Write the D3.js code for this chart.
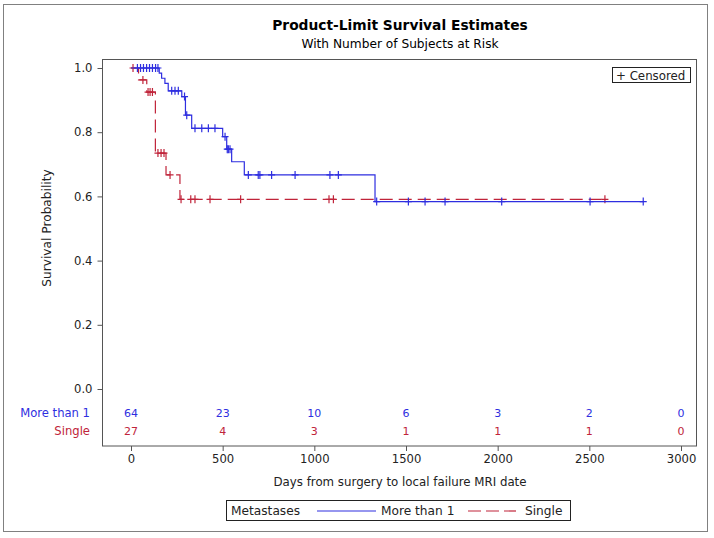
<!DOCTYPE html>
<html><head><meta charset="utf-8">
<script src="https://cdn.jsdelivr.net/npm/d3@7"></script>
<style>body{margin:0;background:#fff}svg{display:block}text{font-family:"DejaVu Sans",sans-serif}</style>
</head><body><svg id="c" width="714" height="538"></svg>
<script>
// ---- data ----
const groups = ["More than 1", "Single"];
const moreEventTimes = [154, 167, 185, 203, 277, 297, 331, 500, 522, 549, 618, 1331];
const moreSurv       = [0.984, 0.968, 0.952, 0.929, 0.911, 0.853, 0.812, 0.786, 0.747, 0.708, 0.667, 0.584];
const moreCensor     = [35, 52, 68, 85, 101, 117, 134, 147, 222, 240, 258, 292, 304, 349, 386, 422, 458, 513, 525, 531, 540,
                        640, 694, 703, 767, 895, 1085, 1131, 1340, 1513, 1604, 1713, 2022, 2504, 2794];
const moreEnd = 2794;
const singleEventTimes = [41, 86, 133, 191, 267];
const singleSurv       = [0.963, 0.925, 0.735, 0.667, 0.591];
const singleCensor     = [11, 65, 93, 104, 117, 147, 164, 180, 213, 273, 326, 349, 431, 598, 1080, 1104, 2585];
const singleEnd = 2585;
const riskTimes = [0, 500, 1000, 1500, 2000, 2500, 3000];
const riskMore   = [64, 23, 10, 6, 3, 2, 0];
const riskSingle = [27, 4, 3, 1, 1, 1, 0];
const xTicks = [0, 500, 1000, 1500, 2000, 2500, 3000];
const yTicks = [0, 0.2, 0.4, 0.6, 0.8, 1.0];

const FONT = '"DejaVu Sans",sans-serif';
const blue = "#2e2ee0", red = "#c0243a";
const svg = d3.select("#c");
const x = d3.scaleLinear().domain([0, 3000]).range([131, 681]);
const y = d3.scaleLinear().domain([0, 1]).range([389, 68]);

// outer border
svg.append("rect").attr("x", 3.5).attr("y", 4.5).attr("width", 704).attr("height", 527)
  .attr("fill", "none").attr("stroke", "#808080").attr("stroke-width", 1);

// titles
svg.append("text").attr("x", 400).attr("y", 30).attr("text-anchor", "middle")
  .attr("font-size", 13.8).attr("font-weight", "bold").text("Product-Limit Survival Estimates");
svg.append("text").attr("x", 400).attr("y", 48).attr("text-anchor", "middle")
  .attr("font-size", 12.2).text("With Number of Subjects at Risk");

// frame
svg.append("rect").attr("x", 102.5).attr("y", 59.5).attr("width", 594).attr("height", 386.5)
  .attr("fill", "none").attr("stroke", "#555").attr("stroke-width", 1);

// axes
const yAxis = svg.append("g").attr("transform", "translate(102.5,0)")
  .call(d3.axisLeft(y).tickValues(yTicks).tickFormat(d3.format(".1f")).tickSize(5).tickPadding(5));
const xAxis = svg.append("g").attr("transform", "translate(0,446)")
  .call(d3.axisBottom(x).tickValues(xTicks).tickFormat(d3.format("d")).tickSize(5).tickPadding(4));
[yAxis, xAxis].forEach(a => {
  a.select(".domain").remove();
  a.selectAll("line").attr("stroke", "#555");
  a.selectAll("text").attr("font-size", 11.6).attr("fill", "#222").style("font-family", FONT);
});

svg.append("text").attr("transform", "translate(51,228) rotate(-90)").attr("text-anchor", "middle")
  .attr("font-size", 12.2).attr("fill", "#222").text("Survival Probability");
svg.append("text").attr("x", 400).attr("y", 486).attr("text-anchor", "middle")
  .attr("font-size", 11.8).attr("fill", "#222").text("Days from surgery to local failure MRI date");

// curves
function stepPts(times, surv, end) {
  const pts = [[0, 1]];
  times.forEach((t, i) => pts.push([t, surv[i]]));
  pts.push([end, surv[surv.length - 1]]);
  return pts;
}
function survAt(times, surv, t) {
  let s = 1;
  times.forEach((tt, i) => { if (tt <= t) s = surv[i]; });
  return s;
}
const line = d3.line().x(d => x(d[0])).y(d => y(d[1])).curve(d3.curveStepAfter);

const series = [
  {times: moreEventTimes, surv: moreSurv, cens: moreCensor, end: moreEnd, color: blue, dash: null},
  {times: singleEventTimes, surv: singleSurv, cens: singleCensor, end: singleEnd, color: red, dash: "13,6"}
];
series.slice().reverse().forEach(s => {
  svg.append("path").attr("d", line(stepPts(s.times, s.surv, s.end)))
    .attr("fill", "none").attr("stroke", s.color).attr("stroke-width", 1.2)
    .attr("stroke-dasharray", s.dash);
  const g = svg.append("g");
  s.cens.forEach(t => {
    const cx = x(t), cy = y(survAt(s.times, s.surv, t));
    g.append("path").attr("d", `M${cx - 3.5},${cy}H${cx + 3.5}M${cx},${cy - 4}V${cy + 4}`)
      .attr("stroke", s.color).attr("stroke-width", 1.2).attr("fill", "none");
  });
});

// censored legend
svg.append("rect").attr("x", 612.5).attr("y", 67.5).attr("width", 78).attr("height", 15)
  .attr("fill", "#fff").attr("stroke", "#222");
svg.append("text").attr("x", 616).attr("y", 79.5).attr("font-size", 11.8).attr("fill", "#222").text("+ Censored");

// at-risk table
const rows = [{name: groups[0], vals: riskMore, color: blue, yy: 412},
              {name: groups[1], vals: riskSingle, color: red, yy: 430}];
rows.forEach(r => {
  svg.append("text").attr("x", 90).attr("y", r.yy + 4.5).attr("text-anchor", "end")
    .attr("font-size", 11.6).attr("fill", r.color).text(r.name);
  svg.selectAll(null).data(riskTimes).enter().append("text")
    .attr("x", d => x(d)).attr("y", r.yy + 4.5).attr("text-anchor", "middle")
    .attr("font-size", 11).attr("fill", r.color).text((d, i) => r.vals[i]);
});

// bottom legend
const lg = svg.append("g");
lg.append("rect").attr("x", 226.5).attr("y", 500.5).attr("width", 344).attr("height", 20)
  .attr("fill", "#fff").attr("stroke", "#222");
lg.append("text").attr("x", 231).attr("y", 515).attr("font-size", 12.2).attr("fill", "#222").text("Metastases");
lg.append("line").attr("x1", 317).attr("x2", 376).attr("y1", 511).attr("y2", 511)
  .attr("stroke", blue).attr("stroke-width", 1.2);
lg.append("text").attr("x", 381).attr("y", 515).attr("font-size", 12.2).attr("fill", "#222").text(groups[0]);
lg.append("line").attr("x1", 468).attr("x2", 516).attr("y1", 511).attr("y2", 511)
  .attr("stroke", red).attr("stroke-width", 1.2).attr("stroke-dasharray", "13,5");
lg.append("text").attr("x", 525).attr("y", 515).attr("font-size", 12.2).attr("fill", "#222").text(groups[1]);
</script></body></html>
